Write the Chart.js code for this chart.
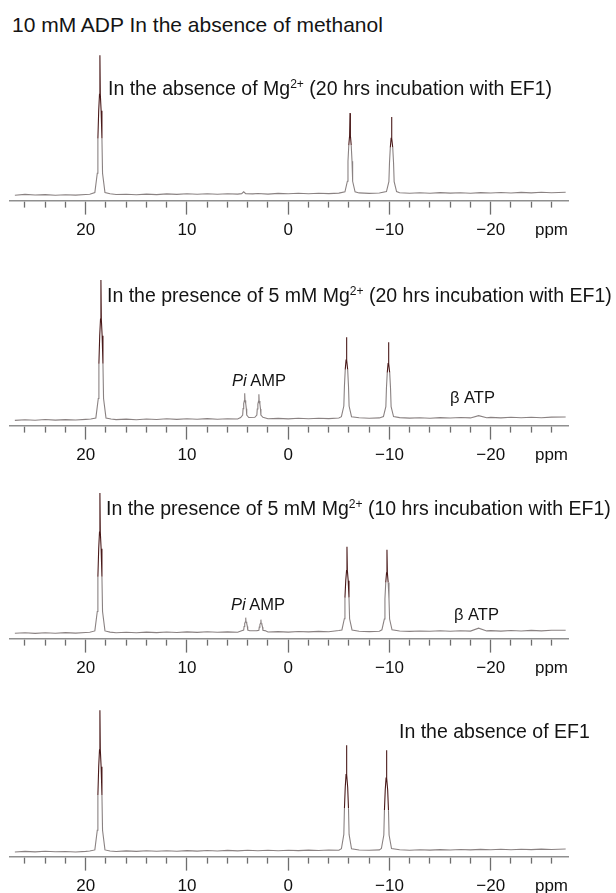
<!DOCTYPE html>
<html>
<head>
<meta charset="utf-8">
<script src="https://cdn.jsdelivr.net/npm/chart.js@4.4.1/dist/chart.umd.min.js"></script>
<style>
  html, body { margin: 0; padding: 0; background: #fff; }
  body { width: 616px; height: 893px; position: relative; overflow: hidden;
         font-family: "Liberation Sans", Arial, sans-serif; color: #141414; }
  canvas { position: absolute; left: 0; }
  .txt { position: absolute; white-space: nowrap; font-size: 19.5px; line-height: 20px; z-index: 2; }
  .sm  { font-size: 16.5px; line-height: 17px; }
  .sup { font-size: 0.62em; position: relative; top: -0.55em; }
</style>
</head>
<body>

<div class="txt" style="left:12px; top:15px; font-size:21px;">10 mM ADP In the absence of methanol</div>

<div class="txt" style="left:108px; top:78px;">In the absence of Mg<span class="sup">2+</span> (20 hrs incubation with EF1)</div>
<div class="txt" style="left:107px; top:285px;">In the presence of 5 mM Mg<span class="sup">2+</span> (20 hrs incubation with EF1)</div>
<div class="txt sm" style="left:232px; top:372px;"><i>Pi</i> AMP</div>
<div class="txt sm" style="left:450px; top:389px;">β ATP</div>
<div class="txt" style="left:106px; top:498px;">In the presence of 5 mM Mg<span class="sup">2+</span> (10 hrs incubation with EF1)</div>
<div class="txt sm" style="left:231px; top:596px;"><i>Pi</i> AMP</div>
<div class="txt sm" style="left:454px; top:606px;">β ATP</div>
<div class="txt" style="left:399px; top:721px;">In the absence of EF1</div>

<canvas id="espectro1" width="616" height="196" style="top:51px"></canvas>
<canvas id="espectro2" width="616" height="196" style="top:276px"></canvas>
<canvas id="espectro3" width="616" height="196" style="top:489px"></canvas>
<canvas id="espectro4" width="616" height="196" style="top:707px"></canvas>

<script>
// === DADOS =================================================================
// eixo (ppm)
const labelTicks = [20, 10, 0, -10, -20];
const unitLabel  = 'ppm';
const unitTickAt = -26;

// 1) sem Mg2+ (20 h com EF1)
const ppm1 = [27.0, 26, 25, 24, 23, 22, 21, 20, 19.6,
  19.1, 18.86, 18.8, 18.72, 18.64, 18.6, 18.56, 18.48, 18.4, 18.34, 18.1,
  17.6, 17, 16, 15, 14, 13, 12, 11, 10, 9, 8, 7, 6, 5,
  4.6, 4.4, 4.2,
  3.5, 3, 2, 1, 0, -1, -2, -3, -4, -5,
  -5.6, -5.84, -5.9, -5.98, -6.06, -6.1, -6.14, -6.22, -6.3, -6.36, -6.6,
  -7, -8, -9,
  -9.7, -9.94, -10.0, -10.08, -10.16, -10.2, -10.24, -10.32, -10.4, -10.46, -10.7,
  -11, -12, -13, -14, -15, -16, -17, -18, -19, -20, -21, -22, -23, -24, -25, -26,
  -27.4];
const int1 = [5.4, 6.2, 5.6, 6.0, 5.3, 5.9, 5.5, 6.1, 6.4,
  8, 27.4, 62.2, 90, 106.7, 145.7, 106.7, 90, 62.2, 27.4, 8,
  6.8, 6.1, 6.4, 5.8, 6.5, 6.0, 6.7, 6.2, 6.9, 6.3, 6.9, 6.4, 6.8, 6.5,
  7.0, 8.8, 7.0,
  6.7, 7.1, 6.5, 7.2, 6.8, 7.3, 6.9, 7.4, 7.0, 7.5,
  8.8, 19.4, 39.5, 55.5, 65.2, 87.7, 65.2, 55.5, 39.5, 19.4, 8.8,
  7.7, 7.2, 7.6,
  9.1, 19, 38, 53.3, 62.4, 83.7, 62.4, 53.3, 38, 19, 9.1,
  7.9, 7.3, 7.8, 7.4, 8.0, 7.5, 7.9, 7.4, 8.0, 7.6, 8.1, 7.6, 8.2, 7.7, 8.3, 7.8,
  8.4];

// 2) 5 mM Mg2+ (20 h com EF1)
const ppm2 = [27.0, 26, 25, 24, 23, 22, 21, 20, 19.5,
  19.0, 18.76, 18.7, 18.62, 18.54, 18.5, 18.46, 18.38, 18.3, 18.24, 18.0,
  17.5, 17, 16, 15, 14, 13, 12, 11, 10, 9, 8, 7, 6, 5,
  4.7, 4.5, 4.46, 4.4, 4.33, 4.3, 4.27, 4.2, 4.14, 4.1, 3.9,
  3.3, 3.1, 3.06, 3.0, 2.93, 2.9, 2.87, 2.8, 2.74, 2.7, 2.5,
  2, 1, 0, -1, -2, -3, -4, -5,
  -5.25, -5.49, -5.55, -5.63, -5.71, -5.75, -5.79, -5.87, -5.95, -6.01, -6.25,
  -7, -8, -9,
  -9.4, -9.64, -9.7, -9.78, -9.86, -9.9, -9.94, -10.02, -10.1, -10.16, -10.4,
  -11, -12, -13, -14, -15, -16, -17, -18,
  -18.8, -19.6,
  -20, -21, -22, -23, -24, -25, -26,
  -27.4];
const int2 = [5.2, 5.9, 5.4, 6.1, 5.5, 6.0, 5.6, 6.2, 6.6,
  7.7, 27.2, 62.1, 90.1, 106.9, 146, 106.9, 90.1, 62.1, 27.2, 7.7,
  6.6, 6.0, 6.5, 5.9, 6.6, 6.1, 6.8, 6.2, 6.9, 6.3, 7.0, 6.4, 6.9, 6.6,
  8.1, 10.5, 17, 22.1, 25.2, 32.5, 25.2, 22.1, 17, 10.5, 8.1,
  8.3, 10.5, 16.7, 21.6, 24.6, 31.5, 24.6, 21.6, 16.7, 10.5, 8.3,
  6.8, 7.2, 6.7, 7.3, 6.9, 7.4, 7.0, 7.6,
  8.9, 19.6, 39.8, 56.1, 65.8, 88.5, 65.8, 56.1, 39.8, 19.6, 8.9,
  7.8, 7.3, 7.7,
  9.1, 19, 38, 53.1, 62.2, 83.5, 62.2, 53.1, 38, 19, 9.1,
  8.0, 7.5, 7.9, 7.4, 8.0, 7.6, 8.1, 7.7,
  10.0, 7.9,
  8.2, 7.7, 8.3, 7.8, 8.4, 7.9, 8.5,
  8.6];

// 3) 5 mM Mg2+ (10 h com EF1)
const ppm3 = [27.0, 26, 25, 24, 23, 22, 21, 20, 19.6,
  19.1, 18.86, 18.8, 18.72, 18.64, 18.6, 18.56, 18.48, 18.4, 18.34, 18.1,
  17.6, 17, 16, 15, 14, 13, 12, 11, 10, 9, 8, 7, 6, 5,
  4.6, 4.4, 4.36, 4.3, 4.23, 4.2, 4.17, 4.1, 4.04, 4.0, 3.8,
  3.1, 2.9, 2.86, 2.8, 2.73, 2.7, 2.67, 2.6, 2.54, 2.5, 2.3,
  2, 1, 0, -1, -2, -3, -4, -5,
  -5.3, -5.54, -5.6, -5.68, -5.76, -5.8, -5.84, -5.92, -6.0, -6.06, -6.3,
  -7, -8, -9,
  -9.25, -9.49, -9.55, -9.63, -9.71, -9.75, -9.79, -9.87, -9.95, -10.01, -10.25,
  -11, -12, -13, -14, -15, -16, -17, -18,
  -18.8, -19.6,
  -20, -21, -22, -23, -24, -25, -26,
  -27.4];
const int3 = [5.3, 5.8, 5.2, 5.9, 5.4, 6.0, 5.5, 6.1, 6.4,
  7.7, 27.2, 62.1, 90.1, 106.9, 146, 106.9, 90.1, 62.1, 27.2, 7.7,
  6.5, 5.9, 6.4, 5.8, 6.5, 6.0, 6.6, 6.1, 6.7, 6.2, 6.8, 6.3, 6.7, 6.4,
  7.9, 8.6, 12.2, 15.2, 16.9, 21, 16.9, 15.2, 12.2, 8.6, 7.9,
  8.0, 8.4, 11.5, 14, 15.5, 19, 15.5, 14, 11.5, 8.4, 8.0,
  6.6, 7.0, 6.5, 7.1, 6.7, 7.2, 6.9, 8.2,
  8.7, 19.9, 41.1, 58.1, 68.3, 92, 68.3, 58.1, 41.1, 19.9, 8.7,
  7.4, 7.0, 7.4,
  8.8, 19.6, 40, 56.3, 66.1, 89, 66.1, 56.3, 40, 19.6, 8.8,
  7.6, 7.2, 7.6, 7.3, 7.8, 7.4, 7.9, 7.5,
  10.5, 7.7,
  8.0, 7.5, 8.1, 7.6, 8.2, 7.7, 8.3,
  8.4];

// 4) sem EF1
const ppm4 = [27.0, 26, 25, 24, 23, 22, 21, 20, 19.6,
  19.1, 18.86, 18.8, 18.72, 18.64, 18.6, 18.56, 18.48, 18.4, 18.34, 18.1,
  17.6, 17, 16, 15, 14, 13, 12, 11, 10, 9, 8, 7, 6, 5, 4, 3, 2, 1, 0, -1, -2, -3, -4, -5,
  -5.25, -5.49, -5.55, -5.63, -5.71, -5.75, -5.79, -5.87, -5.95, -6.01, -6.25,
  -7, -8, -9,
  -9.2, -9.44, -9.5, -9.58, -9.66, -9.7, -9.74, -9.82, -9.9, -9.96, -10.2,
  -11, -12, -13, -14, -15, -16, -17, -18, -19, -20, -21, -22, -23, -24, -25, -26,
  -27.4];
const int4 = [4.6, 5.2, 4.7, 5.3, 4.8, 5.1, 4.6, 5.2, 5.6,
  6.7, 26.4, 61.8, 90.1, 107.1, 146.7, 107.1, 90.1, 61.8, 26.4, 6.7,
  5.6, 5.1, 5.7, 5.2, 5.8, 5.3, 5.9, 5.4, 6.0, 5.5, 6.1, 5.6, 6.2, 5.7, 6.3, 5.8, 6.4, 5.9, 6.3, 6.0, 6.5, 6.1, 6.6, 6.3,
  7.9, 22.2, 48.5, 69.6, 82.2, 111.7, 82.2, 69.6, 48.5, 22.2, 7.9,
  6.6, 6.3, 6.7,
  8.1, 21.6, 46.6, 66.7, 78.7, 106.7, 78.7, 66.7, 46.6, 21.6, 8.1,
  6.8, 6.4, 6.9, 6.5, 7.0, 6.6, 7.1, 6.7, 7.2, 6.8, 7.3, 6.9, 7.4, 7.0, 7.5, 7.1,
  7.6];

// === ESTILO ================================================================
const corLinha = '#8a8282';
const corPico  = '#4a1a1a';
const fonte    = '"Liberation Sans", Arial, sans-serif';

function rotuloTick(v) {
  if (labelTicks.includes(v)) return v < 0 ? '\u2212' + Math.abs(v) : String(v);
  if (v === unitTickAt) return unitLabel;
  return '';
}

function criaEspectro(el, ppm, intensidade) {
  return new Chart(el, {
    type: 'line',
    data: {
      datasets: [{
        data: ppm.map((x, i) => ({ x, y: intensidade[i] })),
        borderColor: corLinha,
        borderWidth: 1.1,
        pointRadius: 0,
        tension: 0,
        segment: {
          // partes altas dos picos ficam escuras (linhas sobrepostas)
          borderColor: ctx => Math.min(intensidade[ctx.p0DataIndex], intensidade[ctx.p1DataIndex]) > 40 ? corPico : corLinha
        }
      }]
    },
    options: {
      responsive: false,
      animation: false,
      events: [],
      layout: { padding: { left: 10, right: 48, top: 0, bottom: 0 } },
      plugins: { legend: { display: false }, tooltip: { enabled: false } },
      scales: {
        y: { display: false, min: 0, max: 150 },
        x: {
          type: 'linear',
          reverse: true,
          min: -27.63,
          max: 27.48,
          border: { display: true, color: '#8f8f8f', width: 1.6 },
          grid: {
            drawOnChartArea: false,
            tickLength: 14,
            tickColor: '#6e6e6e',
            tickWidth: 1.3,
            tickBorderDash: ctx => (ctx.tick && ctx.tick.value % 10 === 0) ? [] : [6, 40]
          },
          ticks: {
            stepSize: 2,
            includeBounds: false,
            autoSkip: false,
            maxRotation: 0,
            padding: 6,
            color: '#111',
            font: { family: fonte, size: 17, lineHeight: 1.2 },
            callback: v => rotuloTick(v)
          }
        }
      }
    }
  });
}

// === GRÁFICOS ==============================================================
criaEspectro(document.getElementById('espectro1'), ppm1, int1);
criaEspectro(document.getElementById('espectro2'), ppm2, int2);
criaEspectro(document.getElementById('espectro3'), ppm3, int3);
criaEspectro(document.getElementById('espectro4'), ppm4, int4);
</script>
</body>
</html>
